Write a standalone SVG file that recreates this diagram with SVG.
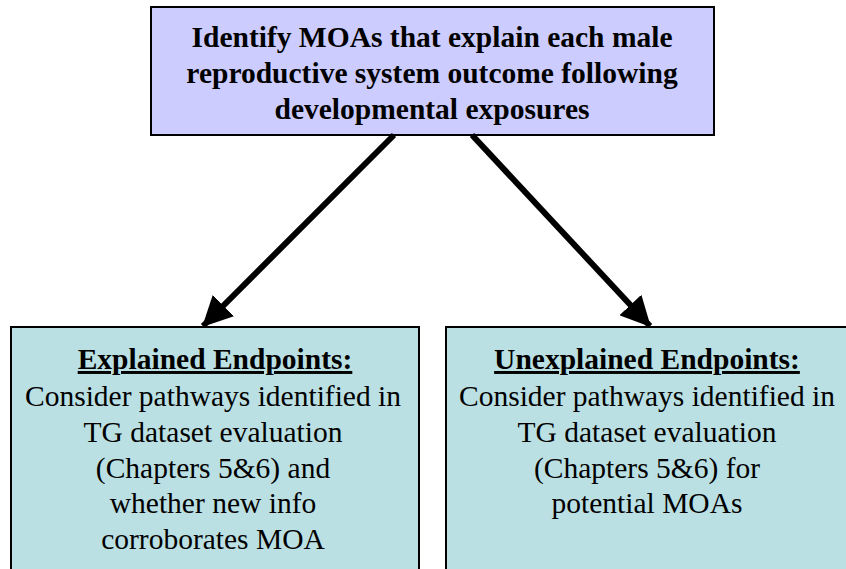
<svg xmlns="http://www.w3.org/2000/svg" width="846" height="569" viewBox="0 0 846 569">
  <style>
    .box { stroke: #000; stroke-width: 2; }
    .goal { fill: #CCCCFF; }
    .branch { fill: #BBE0E3; }
    .node { font-family: 'Liberation Serif', 'Times New Roman', serif; font-size: 29.5px; text-anchor: middle; fill: #000; }
    .bold { font-weight: bold; }
    .head { font-weight: bold; text-decoration: underline; }
    .link { stroke: #000; stroke-width: 6; fill: none; }
  </style>
  <defs>
    <marker id="arrow" markerUnits="userSpaceOnUse" markerWidth="30" markerHeight="30" viewBox="0 0 24 24" refX="23" refY="12" orient="auto">
      <path d="M0,0 L24,12 L0,24 Z" fill="#000"/>
    </marker>
  </defs>
  <rect width="846" height="569" fill="#fff"/>

  <!-- goal box: bold three-line heading -->
  <g id="goal" class="node">
    <rect class="box goal" x="151" y="7" width="563" height="128"/>
    <text class="bold" x="432" y="47">Identify MOAs that explain each male</text>
    <text class="bold" x="432" y="83">reproductive system outcome following</text>
    <text class="bold" x="432" y="119">developmental exposures</text>
  </g>

  <!-- the two branch boxes run past the bottom (and right) edge -->
  <g id="explained" class="node">
    <rect class="box branch" x="11" y="327" width="408" height="250"/>
    <text class="head" x="215" y="369">Explained Endpoints:</text>
    <text x="213" y="406">Consider pathways identified in</text>
    <text x="213" y="442">TG dataset evaluation</text>
    <text x="213" y="478">(Chapters 5&amp;6) and</text>
    <text x="213" y="513">whether new info</text>
    <text x="213" y="549">corroborates MOA</text>
  </g>

  <g id="unexplained" class="node">
    <rect class="box branch" x="446" y="327" width="410" height="250"/>
    <text class="head" x="647" y="369">Unexplained Endpoints:</text>
    <text x="647" y="406">Consider pathways identified in</text>
    <text x="647" y="442">TG dataset evaluation</text>
    <text x="647" y="478">(Chapters 5&amp;6) for</text>
    <text x="647" y="513">potential MOAs</text>
  </g>

  <g id="connectors">
    <line class="link" x1="394" y1="135" x2="203" y2="326" marker-end="url(#arrow)"/>
    <line class="link" x1="472" y1="135" x2="650" y2="326" marker-end="url(#arrow)"/>
  </g>
</svg>
